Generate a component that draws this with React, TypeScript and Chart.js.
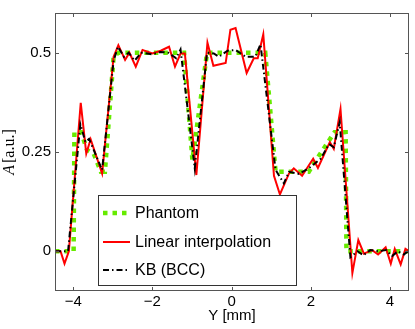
import React, { useEffect, useRef } from 'react';
import { Chart, registerables } from 'chart.js';

Chart.register(...registerables);

// ---- data ----
const seriesLabels = ['Phantom', 'Linear interpolation', 'KB (BCC)'];

const phantomX = [-4.46, -3.99, -3.97, -3.80, -3.65, -3.48, -3.30, -3.20, -2.98, -2.86, -1.20, -0.99, -0.62, 0.85, 1.11, 1.95, 2.10, 2.35, 2.60, 2.88, 2.90, 4.48];
const phantomY = [0, 0, 0.30, 0.30, 0.255, 0.245, 0.20, 0.20, 0.49, 0.50, 0.50, 0.23, 0.50, 0.50, 0.20, 0.20, 0.225, 0.262, 0.30, 0.30, 0, 0];

const linearX = [-4.46, -4.32, -4.22, -4.11, -3.81, -3.67, -3.56, -3.27, -2.98, -2.86, -2.69, -2.58, -2.42, -2.25, -2.0, -1.79, -1.58, -1.43, -1.29, -1.18, -0.89, -0.61, -0.46, -0.15, -0.03, 0.10, 0.38, 0.56, 0.66, 0.80, 1.07, 1.22, 1.45, 1.57, 1.78, 2.06, 2.18, 2.48, 2.58, 2.75, 3.05, 3.20, 3.34, 3.55, 3.70, 3.89, 4.02, 4.12, 4.27, 4.39, 4.48];
const linearY = [0, 0, -0.031, 0, 0.374, 0.246, 0.282, 0.196, 0.49, 0.519, 0.482, 0.50, 0.465, 0.507, 0.498, 0.505, 0.515, 0.465, 0.498, 0.498, 0.192, 0.525, 0.467, 0.474, 0.558, 0.562, 0.449, 0.486, 0.486, 0.546, 0.19, 0.143, 0.196, 0.209, 0.19, 0.233, 0.21, 0.275, 0.258, 0.358, -0.055, 0.028, -0.006, 0.003, -0.008, 0.01, -0.031, 0.006, -0.033, 0.006, 0.0];

const kbX = [-4.46, -4.13, -3.82, -3.69, -3.60, -3.27, -2.98, -2.87, -2.72, -2.60, -2.45, -2.28, -2.00, -1.80, -1.60, -1.40, -1.29, -0.93, -0.62, -0.45, -0.32, -0.10, 0.10, 0.35, 0.60, 0.73, 1.11, 1.32, 1.45, 1.70, 1.95, 2.25, 2.46, 2.58, 2.73, 3.00, 3.18, 3.33, 3.50, 3.70, 3.90, 4.05, 4.20, 4.35, 4.48];
const kbY = [0, 0, 0.32, 0.275, 0.283, 0.205, 0.48, 0.515, 0.49, 0.50, 0.48, 0.50, 0.496, 0.502, 0.50, 0.486, 0.508, 0.209, 0.50, 0.498, 0.49, 0.505, 0.507, 0.49, 0.49, 0.521, 0.205, 0.171, 0.20, 0.195, 0.209, 0.233, 0.27, 0.262, 0.325, -0.015, 0.0, -0.01, 0.003, 0.0, 0.003, -0.012, 0.0, -0.008, 0.002];

const xTicks = [-4, -2, 0, 2, 4];
const yTicks = [0, 0.25, 0.5];
const xRange = [-4.46, 4.48];
const yRange = [-0.1, 0.6];
const xTitle = 'Y [mm]';
const yTitleSymbol = 'A';
const yTitleUnit = '[a.u.]';

const toPoints = (xs: number[], ys: number[]) => xs.map((x, i) => ({ x, y: ys[i] }));

const SANS = '"Liberation Sans", Arial, Helvetica, sans-serif';
const SERIF = '"Liberation Serif", "DejaVu Serif", serif';

const framePlugin = {
  id: 'frameTicks',
  afterDatasetsDraw(chart: any) {
    const { ctx, chartArea: a, scales } = chart;
    const L = 4;
    ctx.save();
    ctx.strokeStyle = '#555';
    ctx.lineWidth = 1;
    ctx.setLineDash([]);
    ctx.strokeRect(Math.round(a.left) + 0.5, Math.round(a.top) + 0.5, Math.round(a.right - a.left) - 1, Math.round(a.bottom - a.top) - 1);
    ctx.beginPath();
    xTicks.forEach((v) => {
      const px = Math.round(scales.x.getPixelForValue(v)) + 0.5;
      ctx.moveTo(px, a.bottom);
      ctx.lineTo(px, a.bottom - L);
      ctx.moveTo(px, a.top);
      ctx.lineTo(px, a.top + L);
    });
    yTicks.forEach((v) => {
      const py = Math.round(scales.y.getPixelForValue(v)) + 0.5;
      ctx.moveTo(a.left, py);
      ctx.lineTo(a.left + L, py);
      ctx.moveTo(a.right, py);
      ctx.lineTo(a.right - L, py);
    });
    ctx.stroke();

    // y-axis title: italic symbol + roman unit
    const cy = (a.top + a.bottom) / 2;
    ctx.translate(10, cy);
    ctx.rotate(-Math.PI / 2);
    ctx.fillStyle = '#000';
    ctx.textBaseline = 'middle';
    ctx.textAlign = 'left';
    const fItal = 'italic 16px ' + SERIF;
    const fRom = '16px ' + SERIF;
    ctx.font = fItal;
    const w1 = ctx.measureText(yTitleSymbol).width;
    ctx.font = fRom;
    const w2 = ctx.measureText(yTitleUnit).width;
    const gap = 2;
    const start = -(w1 + gap + w2) / 2;
    ctx.font = fItal;
    ctx.fillText(yTitleSymbol, start, 0);
    ctx.font = fRom;
    ctx.fillText(yTitleUnit, start + w1 + gap, 0);
    ctx.restore();
  },
};

const legendPlugin = {
  id: 'boxLegend',
  afterDraw(chart: any) {
    const { ctx } = chart;
    const left = 98, top = 195, w = 198, h = 90;
    const rows = [213, 242, 270];
    ctx.save();
    ctx.fillStyle = '#ffffff';
    ctx.fillRect(left, top, w, h);
    ctx.strokeStyle = '#333';
    ctx.lineWidth = 1;
    ctx.setLineDash([]);
    ctx.strokeRect(left + 0.5, top + 0.5, w, h);
    chart.data.datasets.forEach((ds: any, i: number) => {
      const y = rows[i];
      ctx.save();
      ctx.strokeStyle = ds.borderColor;
      ctx.lineWidth = ds.borderWidth;
      ctx.setLineDash(ds.borderDash || []);
      ctx.beginPath();
      ctx.moveTo(103, y);
      ctx.lineTo(130, y);
      ctx.stroke();
      ctx.restore();
      ctx.fillStyle = '#000';
      ctx.font = '16px ' + SANS;
      ctx.textBaseline = 'middle';
      ctx.textAlign = 'left';
      ctx.fillText(ds.label, 135, y + 1);
    });
    ctx.restore();
  },
};

export default function App() {
  const ref = useRef<HTMLCanvasElement | null>(null);
  useEffect(() => {
    document.body.style.margin = '0';
    const canvas = ref.current!;
    const chart = new Chart(canvas, {
      type: 'line',
      data: {
        datasets: [
          {
            label: seriesLabels[0],
            data: toPoints(phantomX, phantomY),
            borderColor: 'rgb(102, 235, 0)',
            borderWidth: 4.5,
            borderDash: [4.5, 5],
            borderCapStyle: 'butt',
            pointRadius: 0,
            tension: 0,
            order: 3,
          },
          {
            label: seriesLabels[1],
            data: toPoints(linearX, linearY),
            borderColor: '#ff0000',
            borderWidth: 2,
            pointRadius: 0,
            tension: 0,
            order: 2,
          },
          {
            label: seriesLabels[2],
            data: toPoints(kbX, kbY),
            borderColor: '#000000',
            borderWidth: 2,
            borderDash: [6, 3, 1.5, 3],
            pointRadius: 0,
            tension: 0,
            order: 1,
          },
        ],
      },
      options: {
        responsive: false,
        animation: false,
        devicePixelRatio: 1,
        layout: { padding: { top: 9, right: 6, left: 0, bottom: 0 } },
        plugins: { legend: { display: false }, tooltip: { enabled: false } },
        scales: {
          x: {
            type: 'linear',
            min: xRange[0],
            max: xRange[1],
            afterBuildTicks: (axis: any) => {
              axis.ticks = xTicks.map((v) => ({ value: v }));
            },
            afterFit: (axis: any) => {
              axis.height = 38;
            },
            grid: { display: false, drawTicks: false },
            border: { display: false },
            ticks: {
              padding: 2,
              color: '#000',
              font: { size: 15, family: SANS },
              callback: (v: any) => (v < 0 ? '\u2212' + Math.abs(v) : String(v)),
            },
            title: {
              display: true,
              text: xTitle,
              color: '#000',
              font: { size: 15, family: SANS },
              padding: { top: 0, bottom: 4 },
            },
          },
          y: {
            type: 'linear',
            min: yRange[0],
            max: yRange[1],
            afterBuildTicks: (axis: any) => {
              axis.ticks = yTicks.map((v) => ({ value: v }));
            },
            afterFit: (axis: any) => {
              axis.width = 55;
            },
            grid: { display: false, drawTicks: false },
            border: { display: false },
            ticks: {
              padding: 4,
              color: '#000',
              font: { size: 15, family: SANS },
              callback: (v: any) => String(v),
            },
            title: { display: false },
          },
        },
      },
      plugins: [framePlugin, legendPlugin],
    } as any);
    return () => chart.destroy();
  }, []);
  return (
    <div style={{ width: 415, height: 329 }}>
      <canvas ref={ref} width={415} height={329} style={{ display: 'block' }} />
    </div>
  );
}
